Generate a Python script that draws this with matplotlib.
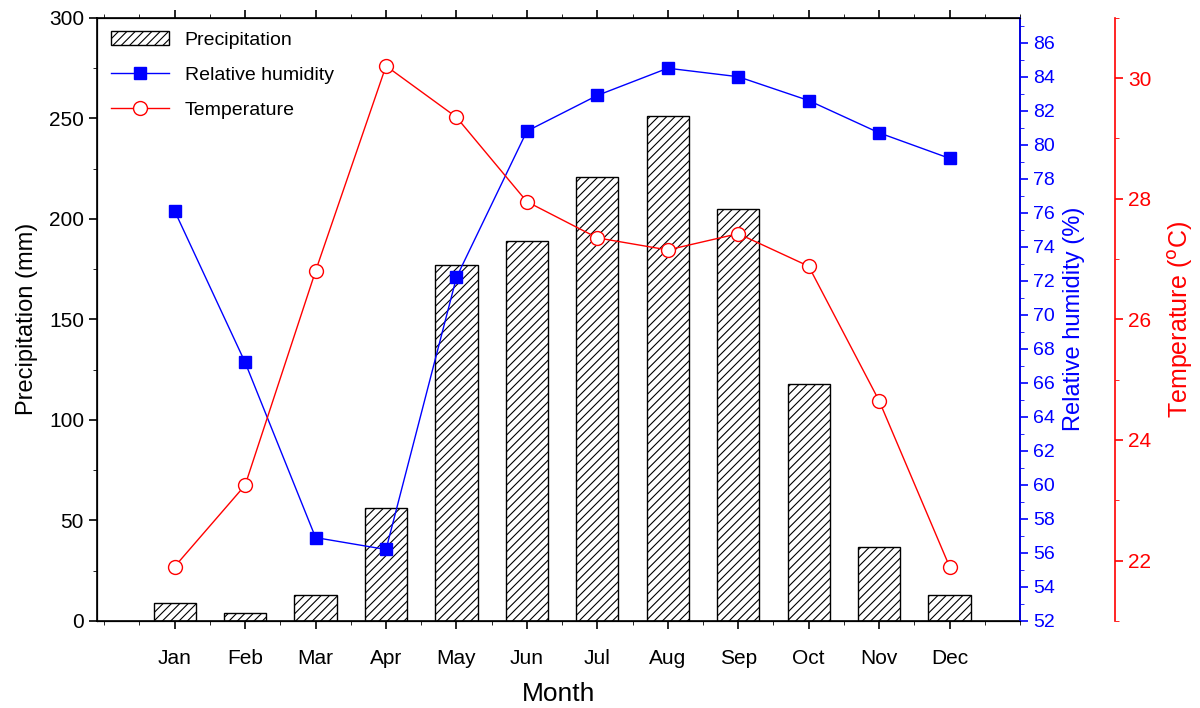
import matplotlib.pyplot as plt
from matplotlib.ticker import MultipleLocator

months = ['Jan', 'Feb', 'Mar', 'Apr', 'May', 'Jun', 'Jul', 'Aug', 'Sep', 'Oct', 'Nov', 'Dec']
precip = [9, 4, 13, 56, 177, 189, 221, 251, 205, 118, 37, 13]
humidity = [76.1, 67.2, 56.9, 56.2, 72.2, 80.8, 82.9, 84.5, 84.0, 82.6, 80.7, 79.2]
temperature = [21.9, 23.25, 26.8, 30.2, 29.35, 27.95, 27.35, 27.15, 27.42, 26.88, 24.65, 21.9]

plt.rcParams['font.family'] = ['Liberation Sans', 'DejaVu Sans']
plt.rcParams['font.size'] = 14
plt.rcParams['hatch.linewidth'] = 0.8

x = list(range(1, 13))
fig = plt.figure(figsize=(12, 7.08), dpi=100)
ax = fig.add_axes([0.081, 0.123, 0.769, 0.852])

b = ax.bar(x, precip, width=0.6, facecolor='white', edgecolor='black', hatch='////', label='Precipitation')
ax.set_xlim(-0.1, 13)
ax.set_ylim(0, 300)
ax.set_xticks(x)
ax.set_xticklabels(months)
ax.xaxis.set_minor_locator(MultipleLocator(0.5))
ax.yaxis.set_minor_locator(MultipleLocator(25))
ax.tick_params(axis='both', direction='out', length=6, width=1.2, labelsize=15)
ax.tick_params(which='minor', direction='out', length=3)
ax.tick_params(axis='x', pad=14)
ax.tick_params(axis='x', which='both', top=True)
ax.set_xlabel('Month', fontsize=19, labelpad=10)
ax.set_ylabel('Precipitation (mm)', fontsize=17, labelpad=8)
for s in ax.spines.values():
    s.set_linewidth(1.2)

ax2 = ax.twinx()
l2, = ax2.plot(x, humidity, color='blue', marker='s', markersize=8, linewidth=1, label='Relative humidity')
ax2.set_ylim(52, 87.47)
ax2.yaxis.set_major_locator(MultipleLocator(2))
ax2.yaxis.set_minor_locator(MultipleLocator(1))
ax2.tick_params(axis='y', colors='blue', length=6, width=1.2, labelsize=14)
ax2.tick_params(axis='y', which='minor', length=3, colors='blue')
ax2.spines['right'].set_color('blue')
ax2.spines['right'].set_linewidth(1.2)
ax2.set_ylabel('Relative humidity (%)', color='blue', fontsize=17, labelpad=6)

ax3 = ax.twinx()
ax3.spines['right'].set_position(('axes', 1.103))
l3, = ax3.plot(x, temperature, color='red', marker='o', markersize=10, markerfacecolor='white',
               linewidth=1, label='Temperature')
ax3.set_ylim(21, 31)
ax3.yaxis.set_major_locator(MultipleLocator(2))
ax3.yaxis.set_minor_locator(MultipleLocator(1))
ax3.tick_params(axis='y', colors='red', length=6, width=1.2, labelsize=15)
ax3.tick_params(axis='y', which='minor', length=3, colors='red')
ax3.spines['right'].set_color('red')
ax3.spines['right'].set_linewidth(1.2)
ax3.set_ylabel('Temperature ($^{\\mathrm{o}}$C)', color='red', fontsize=18, labelpad=10)

ax.legend([b, l2, l3], ['Precipitation', 'Relative humidity', 'Temperature'],
          loc='upper left', frameon=False, fontsize=14, handlelength=3, labelspacing=0.9,
          borderaxespad=0.3)

fig.savefig('out.png', dpi=100)
